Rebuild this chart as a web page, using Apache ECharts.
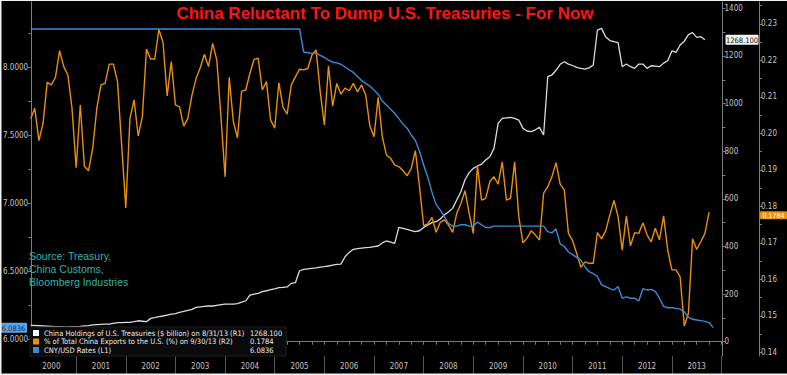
<!DOCTYPE html>
<html><head><meta charset="utf-8">
<script src="https://cdn.jsdelivr.net/npm/echarts@6/dist/echarts.min.js"></script>
<style>html,body{margin:0;padding:0;background:#000}#c{width:787px;height:375px}</style>
</head><body><div id="c"></div>
<script>
const TITLE = 'China Reluctant To Dump U.S. Treasuries - For Now';
const SOURCE_LINES = ['Source: Treasury,', 'China Customs,', 'Bloomberg Industries'];
const YEARS = [2000,2001,2002,2003,2004,2005,2006,2007,2008,2009,2010,2011,2012,2013];
const START_YEAR = 2000; // first point = end of Jan 2000, monthly
const LEGEND_NAMES = [
  'China Holdings of U.S. Treasuries ($ billion) on 8/31/13 (R1)',
  '% of Total China Exports to the U.S. (%) on 9/30/13 (R2)',
  'CNY/USD Rates (L1)'
];
const LAST_VALUES = ['1268.100', '0.1784', '6.0836'];

// China holdings of US Treasuries, $bn (R1), Jan 2000 .. Aug 2013
const HOLDINGS = [
  70,68,67,66,65,64,63,63,62,62,
  63,63,64,66,68,71,72,73,74,74,
  77,80,80,81,81,84,88,86,84,98,
  101,105,108,112,116,118,123,127,132,136,
  144,146,148,150,150,153,156,158,158,158,
  160,166,172,196,200,203,210,214,219,222,
  227,228,230,245,248,298,304,306,308,310,
  313,315,318,322,325,326,357,375,388,391,
  393,395,396,399,402,415,423,418,413,480,
  476,472,467,462,466,480,490,500,504,515,
  532,545,560,595,630,680,710,728,738,746,
  763,777,812,917,938,940,942,938,931,896,
  885,882,890,900,868,1113,1120,1140,1165,1176,
  1166,1160,1152,1148,1145,1150,1162,1309,1316,1281,
  1265,1260,1256,1155,1166,1155,1148,1166,1166,1148,
  1159,1157,1155,1170,1180,1221,1215,1246,1262,1290,
  1298,1278,1281,1268.1
];

// % of total China exports to the US (R2), Jan 2000 .. Sep 2013
const EXPORT_SHARE = [
  0.2040,0.2069,0.1980,0.2028,0.2140,0.2133,0.2154,0.2227,0.2183,0.2160,
  0.2069,0.1906,0.2078,0.1909,0.1898,0.1959,0.2069,0.2133,0.2137,0.2190,
  0.2190,0.2142,0.1968,0.1796,0.2041,0.2092,0.1993,0.2046,0.2231,0.2204,
  0.2204,0.2285,0.2249,0.2103,0.2197,0.2078,0.2073,0.2020,0.2041,0.2105,
  0.2151,0.2180,0.2217,0.2183,0.2247,0.2201,0.2046,0.1881,0.2154,0.2032,
  0.1988,0.2116,0.2119,0.2165,0.2203,0.2206,0.2119,0.2142,0.2037,0.2014,
  0.2139,0.2072,0.2053,0.2133,0.2155,0.2176,0.2174,0.2178,0.2215,0.2229,
  0.2114,0.2023,0.2185,0.2075,0.2137,0.2108,0.2124,0.2117,0.2137,0.2114,
  0.2133,0.2105,0.2020,0.1991,0.2099,0.1991,0.1941,0.1932,0.1913,0.1909,
  0.1898,0.1884,0.1904,0.1953,0.1854,0.1747,0.1752,0.1770,0.1729,0.1756,
  0.1763,0.1749,0.1729,0.1781,0.1808,0.1843,0.1781,0.1726,0.1911,0.1817,
  0.1822,0.1868,0.1881,0.1861,0.1922,0.1817,0.1822,0.1922,0.1772,0.1700,
  0.1713,0.1733,0.1722,0.1708,0.1836,0.1854,0.1881,0.1920,0.1861,0.1845,
  0.1726,0.1706,0.1671,0.1633,0.1648,0.1644,0.1644,0.1728,0.1711,0.1733,
  0.1776,0.1816,0.1772,0.1680,0.1774,0.1692,0.1728,0.1726,0.1755,0.1722,
  0.1703,0.1740,0.1708,0.1774,0.1680,0.1626,0.1626,0.1607,0.1472,0.1507,
  0.1711,0.1682,0.1703,0.1726,0.1784
];

// CNY/USD (L1), Jan 2000 .. Oct 2013
const CNY_USD = [
  8.28,8.28,8.28,8.28,8.28,8.28,8.28,8.28,8.28,8.28,8.28,8.28,
  8.28,8.28,8.28,8.28,8.28,8.28,8.28,8.28,8.28,8.28,8.28,8.28,
  8.28,8.28,8.28,8.28,8.28,8.28,8.28,8.28,8.28,8.28,8.28,8.28,
  8.28,8.28,8.28,8.28,8.28,8.28,8.28,8.28,8.28,8.28,8.28,8.28,
  8.28,8.28,8.28,8.28,8.28,8.28,8.28,8.28,8.28,8.28,8.28,8.28,
  8.28,8.28,8.28,8.28,8.28,8.28,
  8.11,8.105,8.10,8.10,8.085,8.07,8.05,8.035,8.03,8.02,
  8.00,7.98,7.96,7.93,7.90,7.88,7.86,7.83,7.80,7.75,
  7.72,7.69,7.66,7.62,7.58,7.55,7.50,7.46,7.38,7.28,
  7.19,7.08,6.99,6.95,6.90,6.85,6.83,6.83,6.84,6.84,
  6.83,6.83,6.86,6.84,6.82,6.82,6.83,6.83,6.83,6.83,
  6.83,6.83,6.83,6.83,6.83,6.83,6.83,6.83,6.83,6.79,
  6.78,6.81,6.70,6.68,6.64,6.62,6.60,6.58,6.53,6.495,
  6.48,6.46,6.40,6.385,6.37,6.36,6.385,6.30,6.31,6.30,
  6.30,6.28,6.37,6.36,6.365,6.35,6.30,6.24,6.23,6.23,
  6.225,6.22,6.20,6.16,6.145,6.14,6.135,6.13,6.12,6.0836
];

const L_LABELS = [6.0, 6.5, 7.0, 7.5, 8.0];
const L_TICKS = [6.0, 6.25, 6.5, 6.75, 7.0, 7.25, 7.5, 7.75, 8.0, 8.25];
const R1_LABELS = [0, 200, 400, 600, 800, 1000, 1200, 1400];
const R1_TICKS = [0,100,200,300,400,500,600,700,800,900,1000,1100,1200,1300,1400];
const R2_LABELS = [0.14,0.15,0.16,0.17,0.18,0.19,0.20,0.21,0.22,0.23];
const R2_TICKS = [0.14,0.145,0.15,0.155,0.16,0.165,0.17,0.175,0.18,0.185,0.19,0.195,0.20,0.205,0.21,0.215,0.22,0.225,0.23,0.235];

const NARROW = "'Liberation Sans Narrow','DejaVu Sans Condensed',sans-serif";
const ARIAL = "'Liberation Sans',Arial,sans-serif";
const AXIS_COLOR = '#7c7c7c';
const LABEL_COLOR = '#c4c4c4';
const COLORS = ['#dcdcdc', '#e8900c', '#3d8ad6'];

const xOf = i => START_YEAR + (i + 1) / 12;
const yearMid = YEARS.map(y => y + 0.5);
const yearEdges = YEARS.map(y => y + 1);
const quarterTicks = [];
YEARS.forEach(y => { quarterTicks.push(y + 0.25, y + 0.5, y + 0.75, y + 1); });

const X_MIN = 2000.094, X_MAX = 2014.02;

const chart = echarts.init(document.getElementById('c'), null, {renderer: 'svg'});

const baseX = {
  type: 'value', min: X_MIN, max: X_MAX, gridIndex: 0, position: 'bottom',
  splitLine: {show: false}
};

const option = {
  backgroundColor: '#000',
  animation: false,
  grid: {left: 29, right: 64.5, top: 2, bottom: 19, containLabel: false},
  legend: {
    orient: 'vertical', left: 30, top: 327,
    data: LEGEND_NAMES,
    icon: 'rect', itemWidth: 6, itemHeight: 6, itemGap: 0.5,
    padding: [2, 4, 2, 3],
    backgroundColor: '#0b0b0b', borderColor: '#1e1e1e', borderWidth: 1,
    selectedMode: false,
    formatter: name => {
      const k = LEGEND_NAMES.indexOf(name);
      return '{n|' + name + '}{v|' + LAST_VALUES[k] + '}';
    },
    textStyle: {
      color: '#e8e8e8', fontSize: 7.5, fontFamily: NARROW, lineHeight: 8,
      rich: {
        n: {width: 206, fontSize: 7.5, fontFamily: NARROW, color: '#e8e8e8', lineHeight: 8},
        v: {fontSize: 7.5, fontFamily: NARROW, color: '#e8e8e8', lineHeight: 8}
      }
    }
  },
  xAxis: [
    Object.assign({}, baseX, {
      axisLine: {show: true, lineStyle: {color: AXIS_COLOR, width: 1}},
      axisTick: {show: true, customValues: quarterTicks, length: 3, lineStyle: {color: AXIS_COLOR}},
      axisLabel: {show: true, customValues: yearMid, formatter: v => String(Math.floor(v)),
        color: LABEL_COLOR, fontSize: 8, fontFamily: NARROW, margin: 6}
    }),
    Object.assign({}, baseX, {
      axisLine: {show: false},
      axisTick: {show: true, customValues: yearEdges, length: 19, lineStyle: {color: '#555'}},
      axisLabel: {show: false}
    })
  ],
  yAxis: [
    {
      type: 'value', position: 'left', min: 5.875, max: 8.478,
      splitLine: {show: false},
      axisLine: {show: true, lineStyle: {color: AXIS_COLOR}},
      axisTick: {show: true, customValues: L_TICKS, length: 3, lineStyle: {color: AXIS_COLOR}},
      axisLabel: {customValues: L_LABELS, formatter: v => v.toFixed(4), color: LABEL_COLOR,
        fontSize: 8, fontFamily: NARROW, margin: 3}
    },
    {
      type: 'value', position: 'right', min: -60, max: 1426.7,
      splitLine: {show: false},
      axisLine: {show: true, lineStyle: {color: AXIS_COLOR}},
      axisTick: {show: true, customValues: R1_TICKS, length: 3, lineStyle: {color: AXIS_COLOR}},
      axisLabel: {customValues: R1_LABELS, formatter: v => String(Math.round(v)), color: LABEL_COLOR,
        fontSize: 8, fontFamily: NARROW, margin: 2}
    },
    {
      type: 'value', position: 'right', offset: 36.5, min: 0.13899, max: 0.23602,
      splitLine: {show: false},
      axisLine: {show: true, lineStyle: {color: AXIS_COLOR}},
      axisTick: {show: true, customValues: R2_TICKS, length: 3, lineStyle: {color: AXIS_COLOR}},
      axisLabel: {customValues: R2_LABELS, formatter: v => v.toFixed(2), color: LABEL_COLOR,
        fontSize: 8, fontFamily: NARROW, margin: 2}
    }
  ],
  series: [
    {
      name: LEGEND_NAMES[0], type: 'line', xAxisIndex: 0, yAxisIndex: 1,
      data: HOLDINGS.map((v, i) => [xOf(i), v]),
      showSymbol: false, lineStyle: {color: COLORS[0], width: 1.3}, itemStyle: {color: '#ffffff'}
    },
    {
      name: LEGEND_NAMES[1], type: 'line', xAxisIndex: 0, yAxisIndex: 2,
      data: EXPORT_SHARE.map((v, i) => [xOf(i), v]),
      showSymbol: false, lineStyle: {color: COLORS[1], width: 1.4}, itemStyle: {color: COLORS[1]}
    },
    {
      name: LEGEND_NAMES[2], type: 'line', xAxisIndex: 0, yAxisIndex: 0,
      data: CNY_USD.map((v, i) => [xOf(i), v]),
      showSymbol: false, lineStyle: {color: COLORS[2], width: 1.4}, itemStyle: {color: COLORS[2]}
    }
  ]
};
chart.setOption(option);

function tag(id, x, yPix, w, h, text, bg, fg, fs) {
  return {
    type: 'group', id: id, z: 200,
    children: [
      {type: 'rect', shape: {x: x, y: yPix - h / 2, width: w, height: h, r: 1}, style: {fill: bg}},
      {type: 'text', style: {text: text, x: x + w / 2, y: yPix + 0.5, align: 'center', verticalAlign: 'middle',
        fill: fg, fontSize: fs, fontFamily: NARROW}}
    ]
  };
}

const yBlue = chart.convertToPixel({yAxisIndex: 0}, CNY_USD[CNY_USD.length - 1]);
const yWhite = chart.convertToPixel({yAxisIndex: 1}, HOLDINGS[HOLDINGS.length - 1]);
const yOrange = chart.convertToPixel({yAxisIndex: 2}, EXPORT_SHARE[EXPORT_SHARE.length - 1]);

chart.setOption({
  graphic: [
    {type: 'text', id: 'title', z: 150, style: {text: TITLE, x: 385, y: 13, align: 'center', verticalAlign: 'middle',
      fill: '#ff1414', fontSize: 17, fontWeight: 'bold', fontFamily: ARIAL}},
    {type: 'text', id: 'src', z: 150, style: {text: SOURCE_LINES.join('\n'), x: 29, y: 250, align: 'left', verticalAlign: 'top',
      fill: '#30b3aa', fontSize: 10.5, lineHeight: 12.7, fontFamily: ARIAL}},
    tag('tagL', 0, yBlue, 27, 10, LAST_VALUES[2], '#5aa6ea', '#0d2850', 7.5),
    tag('tagR1', 725.5, yWhite, 33, 10, LAST_VALUES[0], '#f2f2f2', '#111', 7.5),
    tag('tagR2', 760, yOrange + 3, 27, 8, LAST_VALUES[1], '#e8900c', '#fff', 7),
    {type: 'rect', id: 'bL', z: 300, shape: {x: 0, y: 0, width: 1.5, height: 375}, style: {fill: '#f0f0f0'}},
    {type: 'rect', id: 'bT', z: 300, shape: {x: 0, y: 0, width: 787, height: 1}, style: {fill: '#f0f0f0'}},
    {type: 'rect', id: 'bB', z: 300, shape: {x: 0, y: 373.5, width: 787, height: 1.5}, style: {fill: '#f0f0f0'}}
  ]
});
</script>
</body></html>
